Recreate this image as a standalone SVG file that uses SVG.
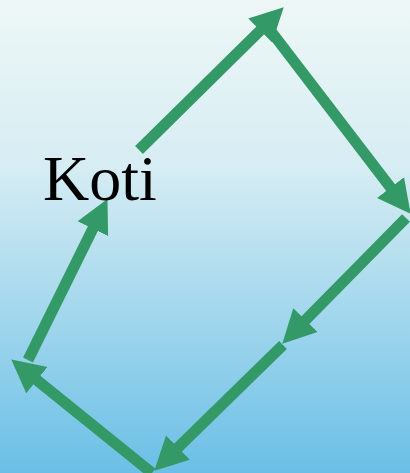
<svg xmlns="http://www.w3.org/2000/svg" width="410" height="473" viewBox="0 0 410 473">
<defs>
<linearGradient id="bg" x1="0" y1="0" x2="0" y2="1">
<stop offset="0" stop-color="#eef7f6"/>
<stop offset="0.35" stop-color="#d6edf3"/>
<stop offset="1" stop-color="#6bbfe6"/>
</linearGradient>
<marker id="ah" markerUnits="userSpaceOnUse" markerWidth="36" markerHeight="36" viewBox="0 -18 36 36" refX="8" refY="0" orient="auto">
<path d="M0,-17 L33,0 L0,17 z" fill="#339966"/>
</marker>
<style>
.c{stroke:#339966;stroke-width:11;fill:none;marker-end:url(#ah)}
.t{font-family:"Liberation Serif","Times New Roman",serif;font-size:64px;fill:#000}
</style>
</defs>
<rect width="410" height="473" fill="url(#bg)"/>
<g id="connectors">
<line class="c" x1="139" y1="150" x2="265.9" y2="24.9"/>
<line class="c" x1="270" y1="30" x2="395.4" y2="193.9"/>
<line class="c" x1="406" y1="218" x2="299.8" y2="325.9"/>
<line class="c" x1="283" y1="345" x2="172.2" y2="453.2"/>
<line class="c" x1="152" y1="473" x2="30.7" y2="375.1"/>
<line class="c" x1="28" y1="360" x2="96.4" y2="221.5"/>
</g>
<g id="koti">
<text class="t" x="43" y="200">Koti</text>
</g>
</svg>
